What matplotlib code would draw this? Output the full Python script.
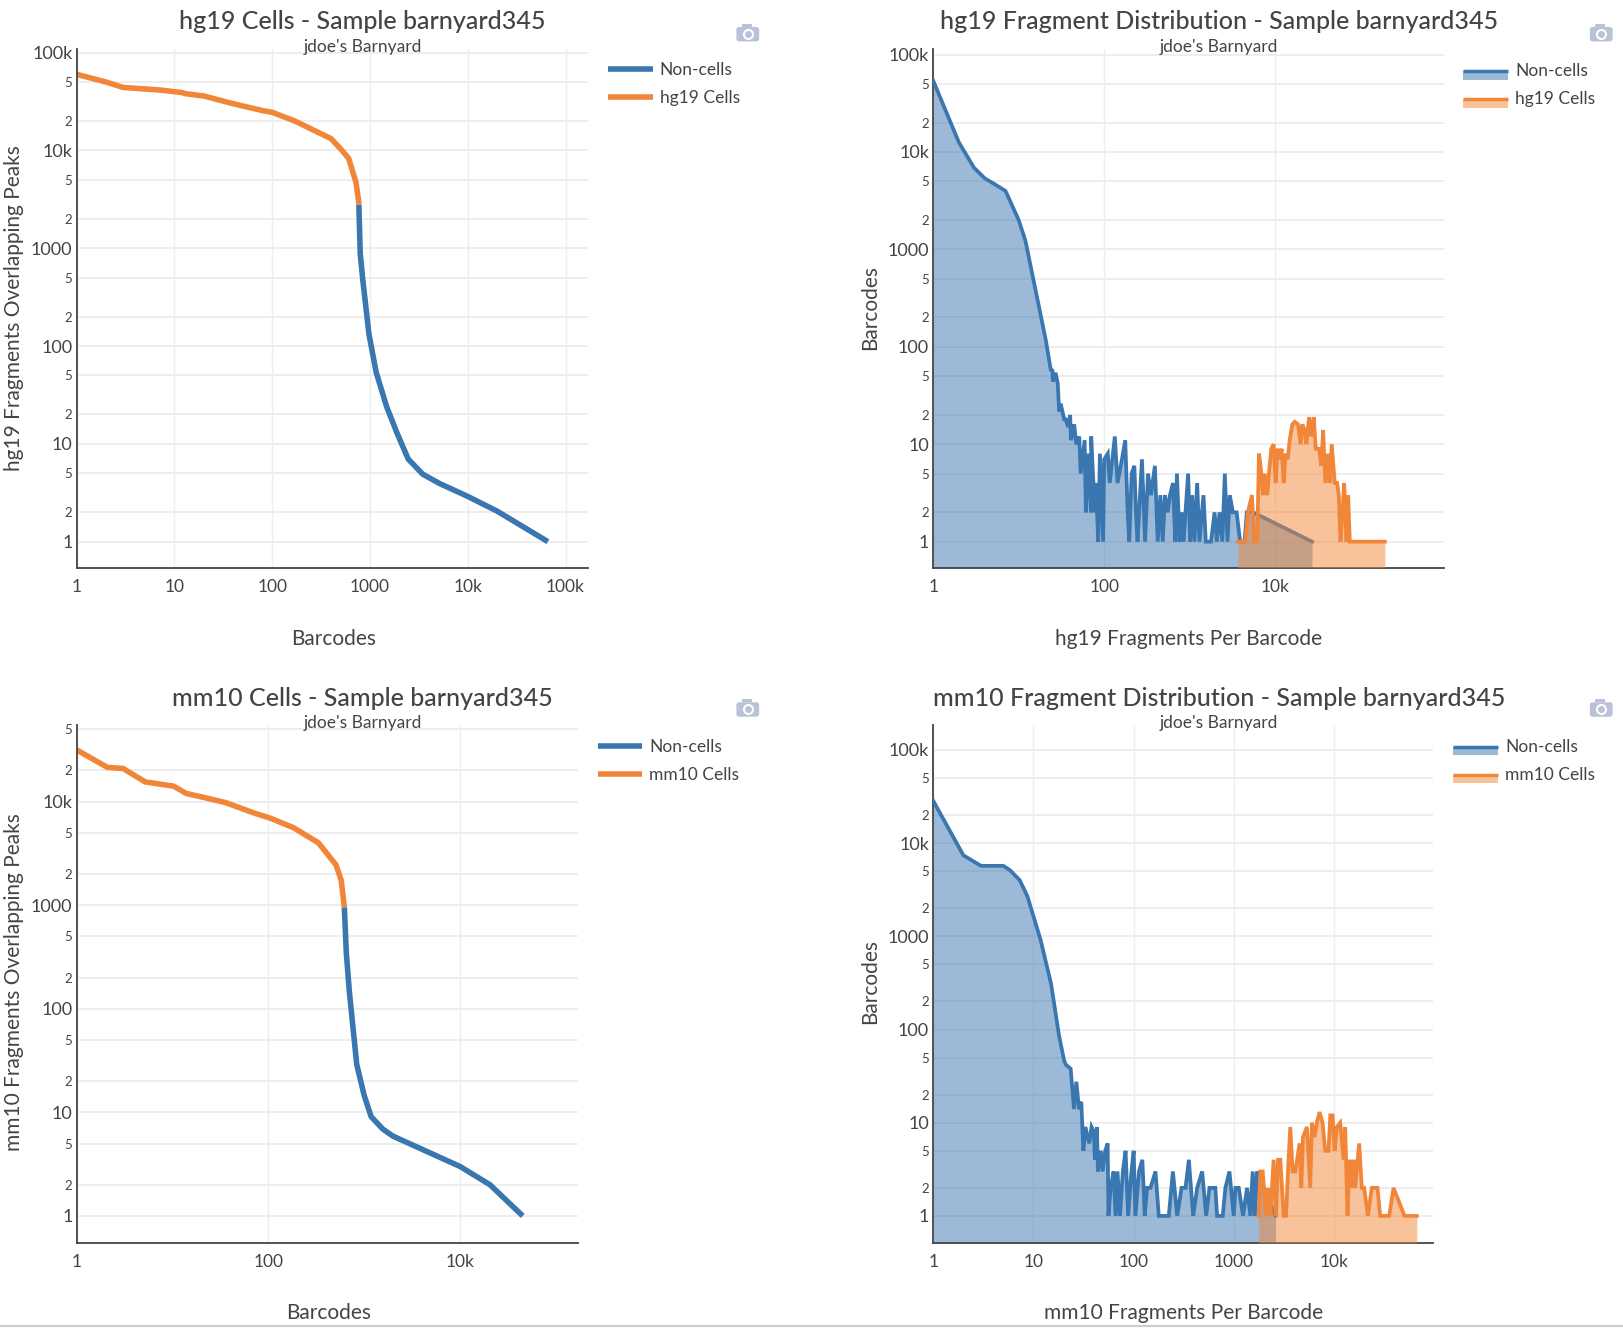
import matplotlib
matplotlib.use("Agg")
import matplotlib.pyplot as plt
from matplotlib.lines import Line2D
from matplotlib.patches import Rectangle, FancyBboxPatch

plt.rcParams['font.family'] = ['Lato', 'DejaVu Sans']

BLUE = "#3a76b0"
ORANGE = "#f28638"
TEXT = "#444444"
GRID = "#eeeeee"

# hg19 barcode rank curve
hg19_rank_cells_x = [1, 2, 3, 7, 12, 13, 20, 40, 80, 100, 170, 400, 500, 605, 720, 774]
hg19_rank_cells_y = [60000, 50000, 44000, 41500, 39000, 38000, 36000, 30000, 25500, 24500, 20000, 13200, 10400, 8300, 4700, 2800]
hg19_rank_non_x = [770, 795, 843, 977, 1157, 1480, 1885, 2460, 3460, 5100, 10000, 20000, 66000]
hg19_rank_non_y = [2800, 880, 483, 132, 54, 24, 13, 7, 4.9, 3.95, 2.9, 2.05, 1]

# mm10 barcode rank curve
mm10_rank_cells_x = [1, 2.1, 3.05, 5.2, 10.3, 13.9, 21, 35.7, 70, 106, 183, 333, 508, 575, 620]
mm10_rank_cells_y = [31600, 21400, 20900, 15500, 14100, 12000, 11000, 9800, 7800, 6900, 5600, 4000, 2450, 1740, 955]
mm10_rank_non_x = [620, 650, 700, 835, 1000, 1180, 1560, 1990, 10000, 20500, 45000]
mm10_rank_non_y = [955, 347, 145, 29, 14.5, 9.1, 6.9, 5.9, 3, 2, 1]

# hg19 fragment histogram
hg19_hist_non_x = [1, 2, 3, 4, 5, 7, 10, 12, 20.7, 23.7, 24.8, 25, 27, 28.6, 29.7, 31, 34, 35.5, 37.8, 40, 40.7,
                   44.5, 47, 51, 53, 59, 61, 65.5, 70, 70.4, 73, 78, 80, 85, 89, 97, 100, 110, 116, 133, 143, 161,
                   176, 188, 196, 209, 225, 235, 245, 276, 300, 325, 352, 391, 422, 453, 483, 513, 552, 587, 636,
                   676, 708, 760, 805, 850, 891, 957, 1010, 1067, 1135, 1220, 1298, 1445, 1540, 1770, 1950, 2070,
                   2230, 2400, 2570, 2760, 2940, 3190, 3530, 3880, 4370, 4650, 5500, 26900]
hg19_hist_non_y = [54000, 12500, 6900, 5370, 4780, 3990, 2000, 1220, 118, 58, 57, 44, 54, 42, 21.7, 26, 18, 18, 15,
                   20, 11, 16, 10, 12, 5, 11, 2, 8, 2, 12, 6, 2, 4, 1, 8, 1, 7, 8, 4, 12, 4, 7, 11, 2, 1, 5, 6, 2,
                   1, 7, 1, 5, 3, 6, 1, 3, 1, 3, 2, 3, 4, 1, 5, 1, 2, 1, 2, 5, 1, 3, 1, 4, 1, 3, 1, 1, 2, 1, 2, 1,
                   5, 1, 3, 2, 2, 1, 1, 2, 2, 1]
hg19_hist_cells_x = [3651, 4450, 4785, 5330, 5675, 6150, 6440, 6730, 7170, 7500, 8060, 8430, 8980, 9560, 10090,
                     10640, 11240, 11860, 12520, 13220, 13960, 14720, 15820, 16870, 18440, 19820, 20710, 22070,
                     23080, 24820, 26430, 28130, 29710, 32480, 34590, 36210, 38540, 41400, 43340, 45710, 49550,
                     52840, 55240, 57820, 60970, 63830, 67950, 71100, 74350, 191000]
hg19_hist_cells_y = [1, 1, 2, 3, 1, 1, 8, 6, 3, 5, 3, 5, 9, 10, 4, 9, 7, 9, 4, 8, 7, 11, 16, 17, 16, 10, 16, 14,
                     10, 19, 12, 19, 9, 9, 6, 14, 4, 8, 4, 10, 4, 4, 3, 1, 2, 4, 1, 3, 1, 1]

# mm10 fragment histogram
mm10_hist_non_x = [1, 2, 3, 4, 5, 5.8, 7.3, 8.7, 11.8, 15, 18, 20.2, 21, 23.5, 25.4, 26.8, 28.5, 30, 31.5, 33, 36,
                   38, 40, 41, 43, 44, 47, 49, 52, 55, 56, 59, 63, 66, 69, 73, 78, 83, 88, 95, 100, 104, 113, 122,
                   129, 136, 147, 165, 178, 224, 246, 272, 300, 329, 355, 392, 430, 482, 528, 570, 653, 679, 773,
                   822, 902, 995, 1035, 1117, 1233, 1352, 1459, 1538, 1611, 1699, 2600]
mm10_hist_non_y = [28500, 7400, 5700, 5700, 5700, 5150, 4000, 2700, 910, 309, 86, 47, 42, 38, 14, 27.5, 14, 16.8, 5,
                   9, 6, 9, 8, 4, 9, 3, 5, 3, 5, 6, 1, 2, 3, 1, 3, 1, 3, 5, 1, 3, 5, 1, 3, 4, 1, 2, 2, 3, 1, 1, 3,
                   1, 2, 2, 4, 1, 2, 3, 1, 2, 2, 1, 1, 2, 3, 1, 2, 2, 1, 2, 1, 3, 1, 3, 1]
mm10_hist_cells_x = [1766, 1837, 1936, 2089, 2188, 2307, 2489, 2630, 2754, 2904, 3135, 3306, 3461, 3649, 3849, 4090,
                     4520, 4697, 4879, 5346, 5770, 5996, 6372, 6724, 7145, 7656, 8143, 8790, 9141, 9638, 10093,
                     10650, 11490, 12390, 12880, 13580, 14220, 15000, 15590, 16190, 17750, 18870, 19900, 21680,
                     23730, 27040, 28770, 35380, 39080, 50320, 66680]
mm10_hist_cells_y = [1, 3, 3, 1, 2, 1, 4, 1, 4, 4, 1, 1, 3, 9, 3, 3, 6, 2, 7, 9, 2, 10, 7, 10, 13, 10, 5, 5, 12, 12,
                     5, 9, 10, 4, 9, 1, 4, 2, 4, 2, 6, 2, 2, 1, 2, 2, 1, 1, 2, 1, 1]

W, H = 1624, 1328
S = W / 1568.0
fig = plt.figure(figsize=(W / 100, H / 100), dpi=100)


def fx(x):
    return x * S / W


def fy(y):
    return 1 - y * S / H


def make_axes(left, right, top, bottom, xlim, ylim, xticks, xlabels, ydecades):
    ax = fig.add_axes([fx(left), fy(bottom), fx(right - 1) - fx(left), fy(top) - fy(bottom)])
    ax.set_xscale("log")
    ax.set_yscale("log")
    ax.set_xlim(xlim)
    ax.set_ylim(ylim)
    ax.set_xticks(xticks)
    ax.set_xticklabels(xlabels, fontsize=12.5, color=TEXT)
    ypos, ylab, ysize = [], [], []
    for d, lab in ydecades:
        ypos.append(d)
        ylab.append(lab)
        ysize.append(13)
        for m in (2, 5):
            if d * m < ylim[1]:
                ypos.append(d * m)
                ylab.append(str(m))
                ysize.append(9.5)
    ax.set_yticks(ypos)
    ax.set_yticklabels(ylab, color=TEXT)
    for t, s in zip(ax.get_yticklabels(), ysize):
        t.set_fontsize(s)
    ax.minorticks_off()
    ax.tick_params(length=0, axis="x", pad=8)
    ax.tick_params(length=0, axis="y", pad=3)
    ax.grid(True, axis="y", color=GRID, lw=1.4)
    ax.grid(True, axis="x", color=GRID, lw=1.0)
    ax.set_axisbelow(True)
    for side in ("top", "right"):
        ax.spines[side].set_visible(False)
    for side in ("left", "bottom"):
        ax.spines[side].set_color(TEXT)
        ax.spines[side].set_linewidth(1.3)
    return ax


def labels(cx, ty, title, xcx, xy, xlabel, ylx, yly, ylabel):
    fig.text(fx(cx), fy(ty + 1), title, ha="center", va="center", fontsize=18, color=TEXT, fontweight="medium")
    fig.text(fx(cx), fy(ty + 25), "jdoe's Barnyard", ha="center", va="center", fontsize=12.5, color=TEXT)
    fig.text(fx(xcx), fy(xy), xlabel, ha="center", va="center", fontsize=15, color=TEXT)
    fig.text(fx(ylx), fy(yly), ylabel, ha="center", va="center", rotation=90, fontsize=15, color=TEXT)


def legend(x0, y0, name, filled):
    for i, (lab, col) in enumerate((("Non-cells", BLUE), (name, ORANGE))):
        y = y0 + i * 27
        if filled:
            fig.add_artist(Rectangle((fx(x0), fy(y + 9)), fx(x0 + 43) - fx(x0), fy(y + 1) - fy(y + 9),
                                     transform=fig.transFigure, fc=col, alpha=0.5, lw=0))
            fig.add_artist(Line2D([fx(x0), fx(x0 + 43)], [fy(y + 1), fy(y + 1)], color=col, lw=2.5,
                                  solid_capstyle="butt"))
        else:
            fig.add_artist(Line2D([fx(x0), fx(x0 + 43)], [fy(y), fy(y)], color=col, lw=4, solid_capstyle="butt"))
        fig.text(fx(x0 + 50), fy(y + 1), lab, va="center", fontsize=12.5, color=TEXT)


def camera(cx, cy):
    col = "#b9c2d6"
    asp = W / H
    fig.add_artist(FancyBboxPatch((fx(cx - 11), fy(cy + 8)), fx(22), fx(14) * asp,
                                  boxstyle="round,pad=0,rounding_size=0.002", transform=fig.transFigure,
                                  fc=col, lw=0))
    fig.add_artist(Rectangle((fx(cx - 6), fy(cy - 6)), fx(10), fx(3) * asp, transform=fig.transFigure, fc=col, lw=0))
    fig.add_artist(Line2D([fx(cx)], [fy(cy + 1)], marker="o", ms=7, mfc="white", mec="white", lw=0))
    fig.add_artist(Line2D([fx(cx)], [fy(cy + 1)], marker="o", ms=4, mfc=col, mec=col, lw=0))


def hist(ax, xa, ya, xb, yb):
    ymin = ax.get_ylim()[0]
    ax.fill_between(xa, ya, ymin, color=BLUE, alpha=0.5, lw=0, zorder=2)
    ax.plot(xa, ya, color=BLUE, lw=2.7, zorder=3, solid_joinstyle="miter")
    ax.fill_between(xb, yb, ymin, color=ORANGE, alpha=0.5, lw=0, zorder=4)
    ax.plot(xb, yb, color=ORANGE, lw=2.7, zorder=5, solid_joinstyle="miter")


dec_p1 = [(1, "1"), (10, "10"), (100, "100"), (1000, "1000"), (10000, "10k"), (100000, "100k")]
dec_p3 = [(1, "1"), (10, "10"), (100, "100"), (1000, "1000"), (10000, "10k")]

# top left
ax = make_axes(74, 569, 47, 548, (1, 10 ** 5.233), (10 ** -0.265, 10 ** 5.04),
               [1, 10, 100, 1000, 10000, 100000], ["1", "10", "100", "1000", "10k", "100k"], dec_p1)
ax.plot(hg19_rank_non_x, hg19_rank_non_y, color=BLUE, lw=4, solid_capstyle="butt")
ax.plot(hg19_rank_cells_x, hg19_rank_cells_y, color=ORANGE, lw=4, solid_capstyle="butt")
labels(350, 20, "hg19 Cells - Sample barnyard345", 322, 617, "Barcodes", 14, 297, "hg19 Fragments Overlapping Peaks")
legend(587, 67, "hg19 Cells", False)
camera(722, 32)

# top right
ax = make_axes(901, 1395, 47, 548, (1, 10 ** 5.97), (10 ** -0.266, 10 ** 5.06),
               [1, 100, 10000], ["1", "100", "10k"], dec_p1)
hist(ax, hg19_hist_non_x, hg19_hist_non_y, hg19_hist_cells_x, hg19_hist_cells_y)
labels(1177, 20, "hg19 Fragment Distribution - Sample barnyard345", 1148, 617, "hg19 Fragments Per Barcode", 840, 297, "Barcodes")
legend(1413, 68, "hg19 Cells", True)
camera(1546, 32)

# bottom left
ax = make_axes(74, 559, 700, 1200, (1, 10 ** 5.229), (10 ** -0.26, 10 ** 4.74),
               [1, 100, 10000], ["1", "100", "10k"], dec_p3)
ax.plot(mm10_rank_non_x, mm10_rank_non_y, color=BLUE, lw=4, solid_capstyle="butt")
ax.plot(mm10_rank_cells_x, mm10_rank_cells_y, color=ORANGE, lw=4, solid_capstyle="butt")
labels(350, 673, "mm10 Cells - Sample barnyard345", 317, 1268, "Barcodes", 14, 948, "mm10 Fragments Overlapping Peaks")
legend(577, 720, "mm10 Cells", False)
camera(722, 684)

# bottom right
ax = make_axes(901, 1385, 700, 1200, (1, 10 ** 4.99), (10 ** -0.289, 10 ** 5.267),
               [1, 10, 100, 1000, 10000], ["1", "10", "100", "1000", "10k"], dec_p1)
hist(ax, mm10_hist_non_x, mm10_hist_non_y, mm10_hist_cells_x, mm10_hist_cells_y)
labels(1177, 673, "mm10 Fragment Distribution - Sample barnyard345", 1143, 1268, "mm10 Fragments Per Barcode", 840, 948, "Barcodes")
legend(1403, 720, "mm10 Cells", True)
camera(1546, 684)

fig.add_artist(Line2D([0, 1], [0.0015, 0.0015], color="#cccccc", lw=1.5))

fig.savefig("out.png", dpi=100)
